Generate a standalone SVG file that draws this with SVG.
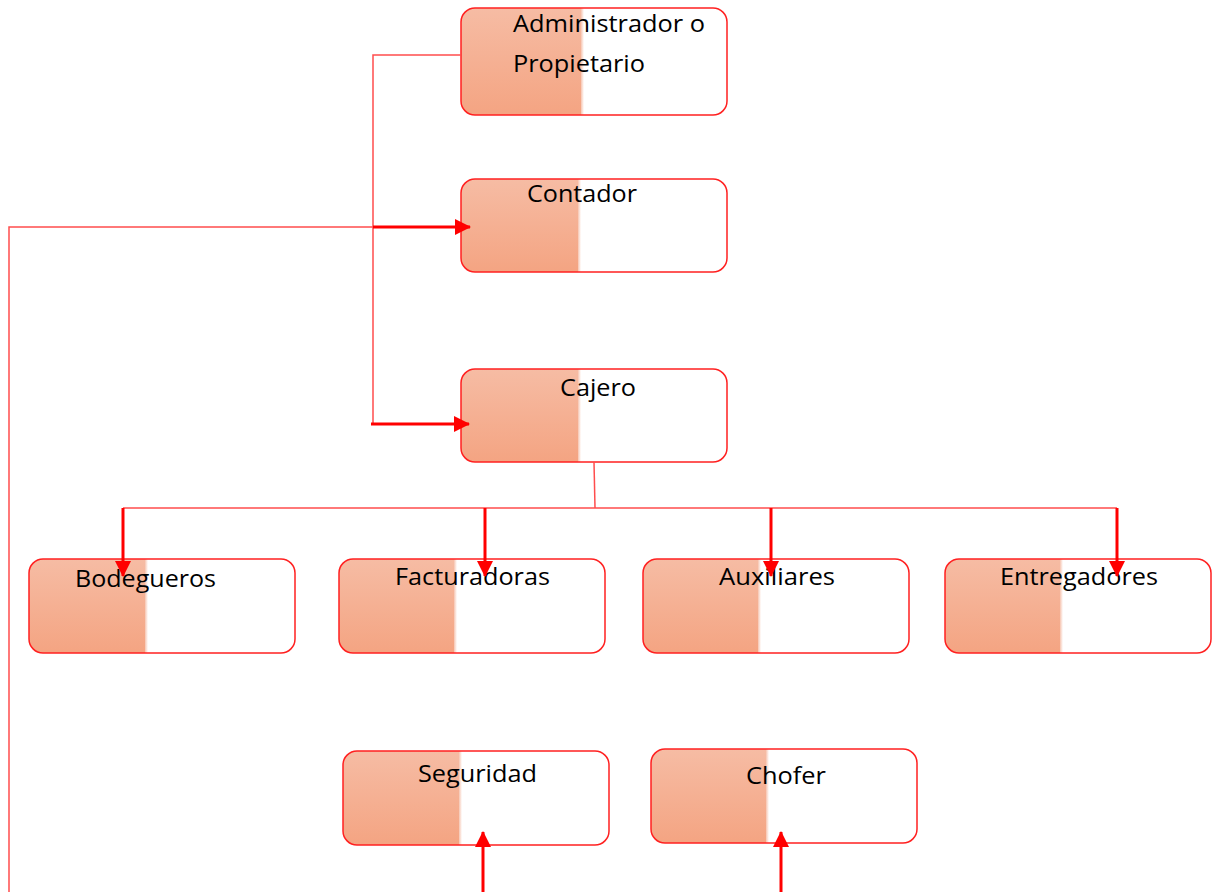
<svg xmlns="http://www.w3.org/2000/svg" width="1220" height="892" viewBox="0 0 1220 892">
<defs>
<linearGradient id="g" x1="0" y1="0" x2="0" y2="1">
<stop offset="0" stop-color="#f6bca4"/>
<stop offset="1" stop-color="#f4a482"/>
</linearGradient>
<linearGradient id="fade" x1="0" y1="0" x2="1" y2="0">
<stop offset="0" stop-color="#f6c4b0"/>
<stop offset="1" stop-color="#ffffff"/>
</linearGradient>
<marker id="ah" markerUnits="userSpaceOnUse" markerWidth="16" markerHeight="16" viewBox="0 0 16 16" refX="15" refY="8" orient="auto">
<path d="M0,0 L16,8 L0,16 Z" fill="#ff0000"/>
</marker>
<style>
.box{fill:#ffffff;stroke:none}
.border{fill:none;stroke:#ff2020;stroke-width:1.5}
.shade{fill:url(#g)}
.lbl{font-family:"Open Sans","Liberation Sans",sans-serif;font-size:24px;fill:#000000}
.thin{fill:none;stroke:#ff4d4d;stroke-width:1.5}
.thick{fill:none;stroke:#ff0000;stroke-width:3;marker-end:url(#ah)}
</style>
</defs>

<g id="n-administrador">
<rect class="box" x="461" y="8" width="266" height="107" rx="14"/>
<path class="shade" d="M475,8 H583 V115 H475 A14,14 0 0 1 461,101 V22 A14,14 0 0 1 475,8 Z"/>
<rect x="581" y="8" width="3" height="107" fill="url(#fade)"/>
<rect class="border" x="461" y="8" width="266" height="107" rx="14"/>
<text class="lbl" x="513" y="32" textLength="192" lengthAdjust="spacingAndGlyphs">Administrador o</text>
<text class="lbl" x="513" y="72" textLength="132" lengthAdjust="spacingAndGlyphs">Propietario</text>
</g>

<g id="n-contador">
<rect class="box" x="461" y="179" width="266" height="93" rx="14"/>
<path class="shade" d="M475,179 H580 V272 H475 A14,14 0 0 1 461,258 V193 A14,14 0 0 1 475,179 Z"/>
<rect x="578" y="179" width="3" height="93" fill="url(#fade)"/>
<rect class="border" x="461" y="179" width="266" height="93" rx="14"/>
<text class="lbl" x="527" y="202" textLength="110" lengthAdjust="spacingAndGlyphs">Contador</text>
</g>

<g id="n-cajero">
<rect class="box" x="461" y="369" width="266" height="93" rx="14"/>
<path class="shade" d="M475,369 H580 V462 H475 A14,14 0 0 1 461,448 V383 A14,14 0 0 1 475,369 Z"/>
<rect x="578" y="369" width="3" height="93" fill="url(#fade)"/>
<rect class="border" x="461" y="369" width="266" height="93" rx="14"/>
<text class="lbl" x="560" y="396" textLength="76" lengthAdjust="spacingAndGlyphs">Cajero</text>
</g>

<g id="n-bodegueros">
<rect class="box" x="29" y="559" width="266" height="94" rx="14"/>
<path class="shade" d="M43,559 H147 V653 H43 A14,14 0 0 1 29,639 V573 A14,14 0 0 1 43,559 Z"/>
<rect x="145" y="559" width="3" height="94" fill="url(#fade)"/>
<rect class="border" x="29" y="559" width="266" height="94" rx="14"/>
<text class="lbl" x="75" y="587" textLength="141" lengthAdjust="spacingAndGlyphs">Bodegueros</text>
</g>

<g id="n-facturadoras">
<rect class="box" x="339" y="559" width="266" height="94" rx="14"/>
<path class="shade" d="M353,559 H456 V653 H353 A14,14 0 0 1 339,639 V573 A14,14 0 0 1 353,559 Z"/>
<rect x="454" y="559" width="3" height="94" fill="url(#fade)"/>
<rect class="border" x="339" y="559" width="266" height="94" rx="14"/>
<text class="lbl" x="395" y="585" textLength="155" lengthAdjust="spacingAndGlyphs">Facturadoras</text>
</g>

<g id="n-auxiliares">
<rect class="box" x="643" y="559" width="266" height="94" rx="14"/>
<path class="shade" d="M657,559 H760 V653 H657 A14,14 0 0 1 643,639 V573 A14,14 0 0 1 657,559 Z"/>
<rect x="758" y="559" width="3" height="94" fill="url(#fade)"/>
<rect class="border" x="643" y="559" width="266" height="94" rx="14"/>
<text class="lbl" x="719" y="585" textLength="116" lengthAdjust="spacingAndGlyphs">Auxiliares</text>
</g>

<g id="n-entregadores">
<rect class="box" x="945" y="559" width="266" height="94" rx="14"/>
<path class="shade" d="M959,559 H1062 V653 H959 A14,14 0 0 1 945,639 V573 A14,14 0 0 1 959,559 Z"/>
<rect x="1060" y="559" width="3" height="94" fill="url(#fade)"/>
<rect class="border" x="945" y="559" width="266" height="94" rx="14"/>
<text class="lbl" x="1000" y="585" textLength="158" lengthAdjust="spacingAndGlyphs">Entregadores</text>
</g>

<g id="n-seguridad">
<rect class="box" x="343" y="751" width="266" height="94" rx="14"/>
<path class="shade" d="M357,751 H461 V845 H357 A14,14 0 0 1 343,831 V765 A14,14 0 0 1 357,751 Z"/>
<rect x="459" y="751" width="3" height="94" fill="url(#fade)"/>
<rect class="border" x="343" y="751" width="266" height="94" rx="14"/>
<text class="lbl" x="418" y="782" textLength="119" lengthAdjust="spacingAndGlyphs">Seguridad</text>
</g>

<g id="n-chofer">
<rect class="box" x="651" y="749" width="266" height="94" rx="14"/>
<path class="shade" d="M665,749 H768 V843 H665 A14,14 0 0 1 651,829 V763 A14,14 0 0 1 665,749 Z"/>
<rect x="766" y="749" width="3" height="94" fill="url(#fade)"/>
<rect class="border" x="651" y="749" width="266" height="94" rx="14"/>
<text class="lbl" x="746" y="784" textLength="80" lengthAdjust="spacingAndGlyphs">Chofer</text>
</g>

<g id="connectors">
<polyline class="thin" points="461,55 373,55 373,424"/>
<polyline class="thin" points="9,892 9,227 373,227"/>
<line class="thick" x1="373" y1="227" x2="470" y2="227"/>
<line class="thick" x1="371" y1="424" x2="469" y2="424"/>
<polyline class="thin" points="594,462 595,508"/>
<line class="thin" x1="123" y1="508" x2="1117" y2="508"/>
<line class="thick" x1="123" y1="508" x2="123" y2="576"/>
<line class="thick" x1="485" y1="508" x2="485" y2="576"/>
<line class="thick" x1="771" y1="508" x2="771" y2="576"/>
<line class="thick" x1="1117" y1="508" x2="1117" y2="576"/>
<line class="thick" x1="483" y1="892" x2="483" y2="832"/>
<line class="thick" x1="781" y1="892" x2="781" y2="832"/>
</g>
</svg>
